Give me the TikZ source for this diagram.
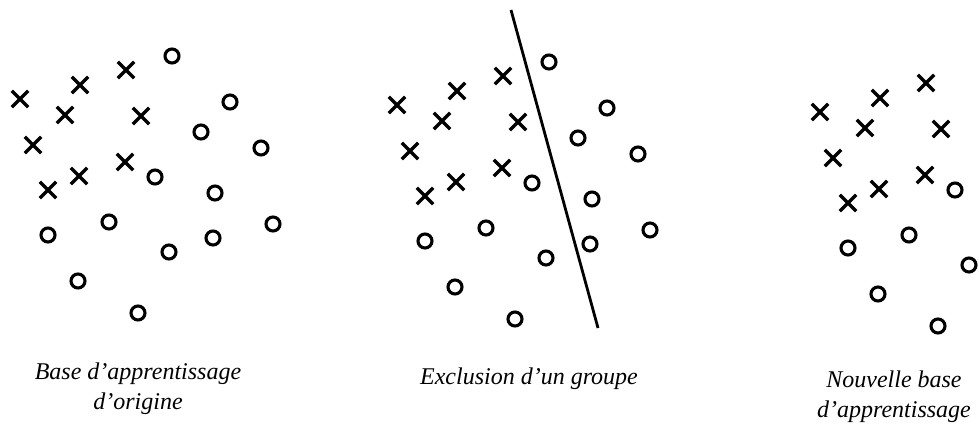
\documentclass[tikz,border=0pt]{standalone}
\usepackage{fontspec}
\setmainfont{Liberation Serif}
\usetikzlibrary{shapes.misc}

\begin{document}
\begin{tikzpicture}[
    x=1pt, y=-1pt,
    every node/.style={font=\itshape\fontsize{24}{30}\selectfont},
    croix/.style={cross out, draw, line width=3.3pt, minimum size=13pt, inner sep=0pt},
    rond/.style={circle, draw, line width=3.1pt, minimum size=14pt, inner sep=0pt}
  ]
  \useasboundingbox (0,0) rectangle (979,428);

  % ── Nuage de points (coordonnees du panneau de gauche) ──────────────────
  % croix : 9 points en haut a gauche
  % ronds gardes : ceux qui restent a gauche de la droite
  % ronds exclus : ceux qui passent a droite de la droite
  \def\croixliste{20/99, 80/85, 126/70, 65/115, 141/116, 33/145, 125/162, 79/176, 48/190}
  \def\gardes{155/177, 109/222, 48/235, 169/252, 78/281, 138/313}
  \def\exclus{172/56, 230/102, 201/132, 261/148, 215/193, 273/224, 213/238}

  % ── Base d'origine (gauche) ─────────────────────────────────────────────
  \begin{scope}
    \foreach \x/\y [count=\i] in \croixliste
      \node[croix] (ax\i) at (\x,\y) {};
    \foreach \x/\y [count=\i] in \gardes
      \node[rond] (ag\i) at (\x,\y) {};
    \foreach \x/\y [count=\i] in \exclus
      \node[rond] (ae\i) at (\x,\y) {};
    % base = ligne du bas
    \node[align=center, anchor=base] (titreA) at (138,409)
      {Base d'apprentissage\\d'origine};
  \end{scope}

  % ── Exclusion (milieu) ──────────────────────────────────────────────────
  \begin{scope}[shift={(377,6)}]
    \foreach \x/\y [count=\i] in \croixliste
      \node[croix] (bx\i) at (\x,\y) {};
    \foreach \x/\y [count=\i] in \gardes
      \node[rond] (bg\i) at (\x,\y) {};
    \foreach \x/\y [count=\i] in \exclus
      \node[rond] (be\i) at (\x,\y) {};

    % la droite qui separe le groupe exclu
    \coordinate (haut) at (134,4);
    \coordinate (bas) at (221,322);
    \draw[line width=2.8pt] (haut) -- (bas);
  \end{scope}
  \node[anchor=base] (titreB) at (529,384) {Exclusion d'un groupe};

  % ── Nouvelle base (droite) ──────────────────────────────────────────────
  % les ronds exclus ont disparu
  \begin{scope}[shift={(800,13)}]
    \foreach \x/\y [count=\i] in \croixliste
      \node[croix] (cx\i) at (\x,\y) {};
    \foreach \x/\y [count=\i] in \gardes
      \node[rond] (cg\i) at (\x,\y) {};
  \end{scope}
  \node[align=center, anchor=base] (titreC) at (894,417)
    {Nouvelle base\\d'apprentissage};

\end{tikzpicture}
\end{document}
